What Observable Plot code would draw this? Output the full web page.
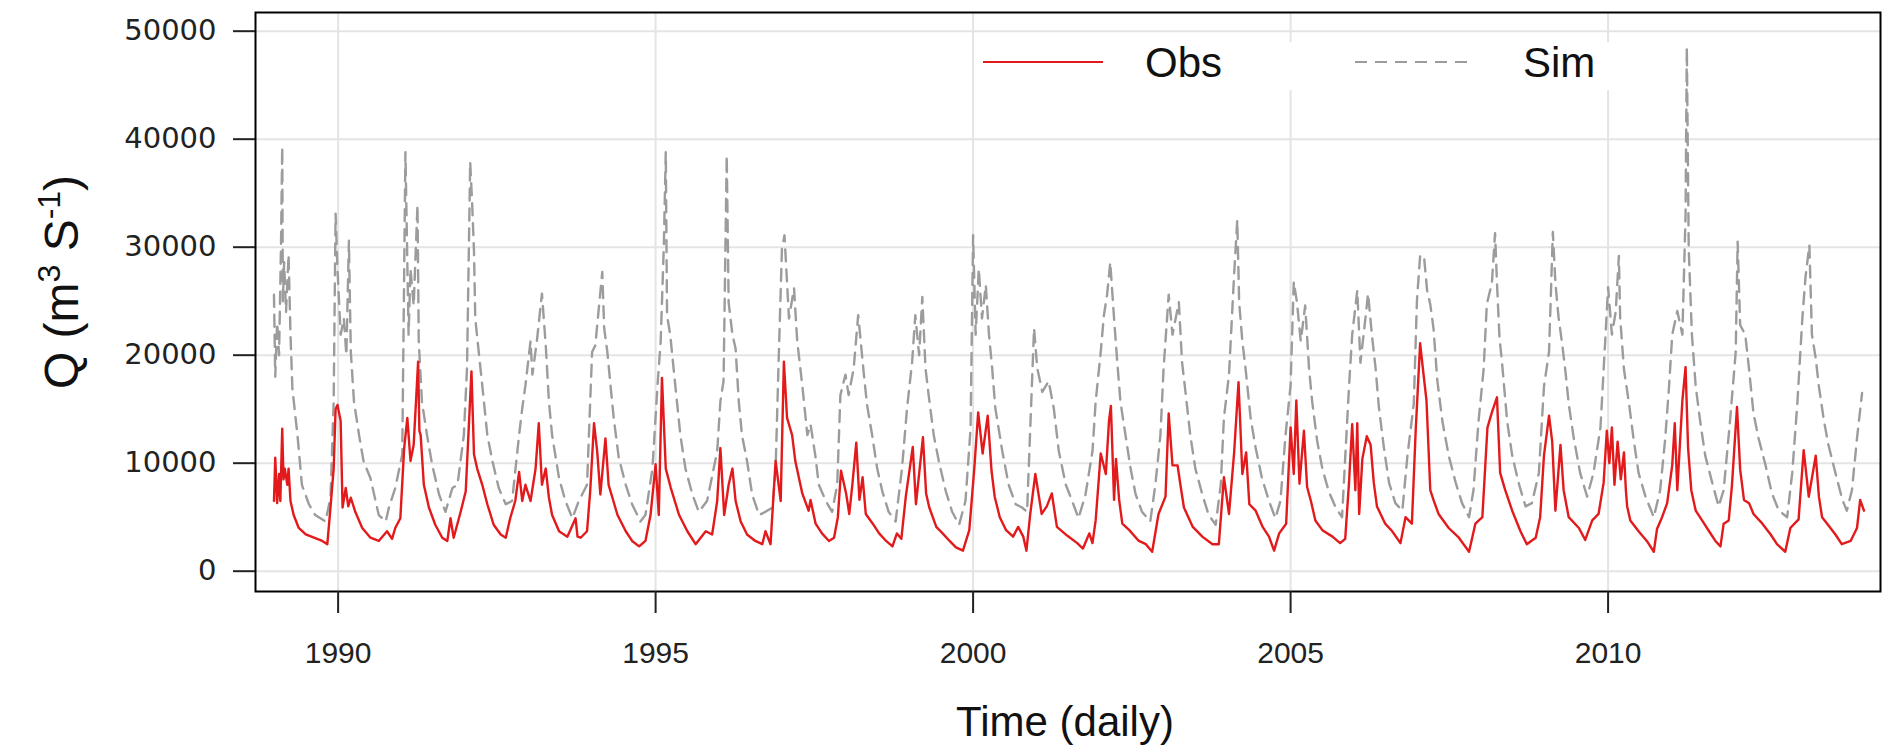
<!DOCTYPE html>
<html>
<head>
<meta charset="utf-8">
<script src="https://cdn.jsdelivr.net/npm/d3@7"></script>
<script src="https://cdn.jsdelivr.net/npm/@observablehq/plot@0.6"></script>
<style>
  html, body { margin: 0; padding: 0; background: #fff; }
  #chart { width: 1884px; height: 748px; }
</style>
</head>
<body>
<div id="chart"></div>
<script>
// ---- Data (decimal year, discharge m3/s) ----
const obsTime = [1988.99,1989.01,1989.04,1989.07,1989.09,1989.12,1989.14,1989.16,1989.2,1989.22,1989.25,1989.3,1989.38,1989.49,1989.62,1989.75,1989.83,1989.88,1989.93,1989.96,1989.99,1990.04,1990.07,1990.12,1990.16,1990.2,1990.27,1990.38,1990.51,1990.64,1990.77,1990.85,1990.9,1990.98,1991.04,1991.09,1991.14,1991.19,1991.26,1991.28,1991.3,1991.35,1991.43,1991.53,1991.64,1991.72,1991.77,1991.82,1991.93,1992.01,1992.06,1992.1,1992.14,1992.19,1992.27,1992.35,1992.45,1992.56,1992.64,1992.71,1992.79,1992.85,1992.9,1992.95,1993.03,1993.11,1993.16,1993.21,1993.27,1993.32,1993.37,1993.48,1993.61,1993.74,1993.77,1993.82,1993.92,1993.97,1994.03,1994.08,1994.13,1994.21,1994.26,1994.32,1994.4,1994.53,1994.63,1994.74,1994.84,1994.92,1995.0,1995.05,1995.1,1995.16,1995.24,1995.37,1995.5,1995.63,1995.79,1995.89,1995.97,1996.02,1996.08,1996.15,1996.21,1996.26,1996.34,1996.44,1996.57,1996.68,1996.73,1996.81,1996.89,1996.97,1997.02,1997.07,1997.15,1997.2,1997.31,1997.41,1997.44,1997.52,1997.62,1997.73,1997.81,1997.87,1997.92,1998.0,1998.05,1998.1,1998.16,1998.21,1998.26,1998.31,1998.42,1998.52,1998.63,1998.73,1998.8,1998.87,1998.94,1999.05,1999.1,1999.21,1999.26,1999.31,1999.42,1999.52,1999.63,1999.73,1999.84,1999.94,2000.02,2000.08,2000.15,2000.23,2000.29,2000.34,2000.42,2000.52,2000.63,2000.71,2000.79,2000.84,2000.9,2000.98,2001.08,2001.16,2001.24,2001.32,2001.48,2001.64,2001.73,2001.83,2001.88,2001.93,2002.01,2002.09,2002.14,2002.17,2002.22,2002.25,2002.3,2002.35,2002.46,2002.61,2002.72,2002.82,2002.92,2003.03,2003.08,2003.14,2003.22,2003.27,2003.32,2003.46,2003.61,2003.77,2003.87,2003.95,2004.03,2004.11,2004.18,2004.24,2004.3,2004.35,2004.45,2004.56,2004.66,2004.74,2004.82,2004.93,2005.0,2005.05,2005.09,2005.14,2005.21,2005.26,2005.32,2005.39,2005.5,2005.66,2005.78,2005.86,2005.92,2005.97,2006.02,2006.05,2006.08,2006.13,2006.2,2006.26,2006.31,2006.36,2006.49,2006.6,2006.73,2006.81,2006.91,2006.97,2007.04,2007.09,2007.14,2007.2,2007.25,2007.33,2007.49,2007.65,2007.81,2007.91,2008.02,2008.1,2008.17,2008.25,2008.3,2008.38,2008.49,2008.62,2008.72,2008.86,2008.93,2008.99,2009.07,2009.12,2009.17,2009.25,2009.3,2009.38,2009.54,2009.64,2009.75,2009.85,2009.93,2009.98,2010.02,2010.06,2010.1,2010.15,2010.2,2010.25,2010.28,2010.3,2010.35,2010.48,2010.61,2010.72,2010.77,2010.85,2010.93,2011.01,2011.05,2011.09,2011.17,2011.22,2011.26,2011.31,2011.38,2011.48,2011.59,2011.69,2011.77,2011.82,2011.9,2011.95,2012.03,2012.08,2012.14,2012.22,2012.29,2012.43,2012.56,2012.66,2012.79,2012.87,2013.0,2013.08,2013.16,2013.27,2013.32,2013.37,2013.45,2013.58,2013.68,2013.82,2013.92,2013.97,2014.03];
const obsQ = [6500,10500,6300,9000,6500,13200,8500,9500,8000,9500,6500,5200,4000,3400,3100,2800,2500,5900,9500,15000,15400,13900,5900,7700,6000,6800,5500,4000,3100,2800,3700,3000,4000,4900,11400,14200,10200,11700,19400,13000,12600,8000,5900,4300,3100,2800,4900,3100,5500,7400,13600,18500,10800,9500,8000,6200,4300,3400,3100,4900,6500,9200,6500,8000,6500,9500,13700,8000,9500,6800,5200,3700,3200,4900,3200,3100,3700,7400,13700,11100,7100,12300,8000,6800,5200,3700,2800,2300,2800,5200,9900,5200,17900,9500,7700,5200,3700,2500,3700,3400,6500,11400,5200,8000,9500,6500,4600,3400,2800,2500,3700,2500,10200,6500,19400,14200,12600,10200,7200,5600,6600,4400,3500,2800,3100,5000,9300,7200,5300,8100,11900,6600,8700,5300,4400,3500,2800,2300,3500,3000,6900,11500,6200,12400,7200,5900,4100,3500,2800,2200,1900,3800,9600,14700,10900,14400,9300,6900,5000,3800,3200,4100,3200,1900,5300,9000,5300,6000,7200,4100,3300,2600,2100,3500,2600,4700,10900,9000,13900,15300,6600,10400,6600,4400,3800,2800,2500,1800,5300,6900,14600,9800,9800,7800,5900,4100,3200,2500,2500,8700,5300,10900,17500,9000,11000,6200,5600,4100,3200,1900,3500,4400,13300,9000,15800,8100,13000,7800,6500,4700,3800,3200,2600,3000,8200,13600,7500,13700,5300,10400,12500,11700,8200,6000,4400,3700,2600,5000,4400,13000,21100,18400,15800,7500,6600,5300,4000,3100,1800,4400,5000,13300,14700,16100,9100,7500,5600,3700,2500,3100,5000,10700,14400,12000,5600,11700,7500,5000,4000,2900,4700,5300,8200,13000,10000,13300,8000,12000,8500,11000,7500,6000,4700,3700,2800,1800,3900,5000,6300,9800,13700,7500,15800,18900,11400,7500,5600,4700,3700,2800,2300,4400,4700,7900,15200,9400,6600,6300,5300,4400,3400,2500,1800,4000,4800,11200,6900,10700,6900,5000,4400,3400,2500,2800,4000,6600,5600];

const simTime = [1988.99,1989.01,1989.04,1989.07,1989.1,1989.12,1989.13,1989.15,1989.18,1989.22,1989.25,1989.28,1989.36,1989.43,1989.54,1989.64,1989.8,1989.88,1989.93,1989.96,1989.99,1990.04,1990.09,1990.13,1990.17,1990.2,1990.25,1990.33,1990.4,1990.51,1990.64,1990.75,1990.8,1990.9,1991.01,1991.06,1991.11,1991.14,1991.19,1991.25,1991.27,1991.32,1991.4,1991.48,1991.59,1991.69,1991.8,1991.88,1991.98,1992.03,1992.08,1992.11,1992.14,1992.16,1992.22,1992.27,1992.35,1992.43,1992.53,1992.64,1992.74,1992.85,1992.9,1992.95,1993.03,1993.06,1993.13,1993.21,1993.27,1993.32,1993.37,1993.48,1993.58,1993.69,1993.79,1993.92,1994.0,1994.05,1994.16,1994.19,1994.24,1994.29,1994.34,1994.42,1994.53,1994.63,1994.76,1994.84,1994.95,1995.03,1995.08,1995.13,1995.16,1995.18,1995.23,1995.31,1995.39,1995.47,1995.58,1995.68,1995.81,1995.97,1996.02,1996.07,1996.12,1996.15,1996.21,1996.26,1996.31,1996.36,1996.44,1996.52,1996.63,1996.73,1996.84,1996.89,1996.94,1996.99,1997.03,1997.1,1997.18,1997.23,1997.31,1997.39,1997.44,1997.52,1997.57,1997.68,1997.78,1997.86,1997.91,1997.99,1998.04,1998.12,1998.19,1998.23,1998.28,1998.33,1998.41,1998.49,1998.57,1998.67,1998.78,1998.88,1998.96,1999.04,1999.09,1999.15,1999.2,1999.25,1999.3,1999.38,1999.46,1999.57,1999.67,1999.78,1999.88,1999.96,2000.0,2000.04,2000.09,2000.14,2000.2,2000.25,2000.3,2000.35,2000.46,2000.56,2000.67,2000.77,2000.85,2000.9,2000.96,2001.01,2001.09,2001.19,2001.27,2001.35,2001.46,2001.56,2001.66,2001.77,2001.88,2001.93,2002.01,2002.06,2002.11,2002.16,2002.22,2002.27,2002.32,2002.4,2002.48,2002.56,2002.66,2002.79,2002.87,2002.95,2003.0,2003.08,2003.14,2003.24,2003.29,2003.35,2003.42,2003.5,2003.61,2003.71,2003.82,2003.9,2003.95,2004.03,2004.11,2004.16,2004.19,2004.24,2004.29,2004.37,2004.45,2004.55,2004.66,2004.76,2004.84,2004.92,2005.0,2005.05,2005.1,2005.16,2005.23,2005.29,2005.34,2005.42,2005.5,2005.6,2005.71,2005.81,2005.92,2005.97,2006.05,2006.1,2006.18,2006.22,2006.28,2006.34,2006.39,2006.47,2006.55,2006.65,2006.76,2006.84,2006.94,2006.99,2007.04,2007.1,2007.15,2007.2,2007.25,2007.31,2007.39,2007.49,2007.6,2007.7,2007.81,2007.88,2007.96,2008.04,2008.09,2008.17,2008.22,2008.25,2008.29,2008.33,2008.41,2008.49,2008.59,2008.7,2008.8,2008.91,2008.99,2009.07,2009.13,2009.17,2009.22,2009.28,2009.33,2009.38,2009.46,2009.56,2009.67,2009.77,2009.88,2009.96,2010.0,2010.06,2010.12,2010.17,2010.19,2010.25,2010.33,2010.4,2010.48,2010.59,2010.72,2010.82,2010.9,2010.96,2011.01,2011.09,2011.17,2011.22,2011.24,2011.27,2011.32,2011.38,2011.45,2011.53,2011.64,2011.74,2011.82,2011.92,2012.01,2012.04,2012.08,2012.16,2012.22,2012.29,2012.37,2012.48,2012.58,2012.69,2012.82,2012.9,2012.98,2013.06,2013.11,2013.17,2013.21,2013.27,2013.32,2013.4,2013.47,2013.58,2013.69,2013.76,2013.84,2013.92,2014.0];
const simQ = [25600,18000,23000,20000,30000,39300,25000,28600,24000,29300,21900,16900,12600,8000,6200,5200,4600,6800,15700,33100,28000,21900,23400,20000,30600,20300,15700,12600,10200,8600,5200,4600,5900,7700,10800,38800,21900,28000,24600,33900,21300,15700,12600,9900,7100,5500,7700,8000,12600,18800,37900,34200,29600,23400,20000,17200,12600,10200,7700,6200,6500,12600,15100,17200,21300,18200,21300,25700,20900,15700,12600,8600,6500,4900,6500,8000,20300,20900,27700,22500,20300,17200,14200,10500,8000,6200,4600,5200,9500,17200,21300,30200,38800,23700,21900,17200,12600,9500,7100,5500,6500,11100,15700,17600,38500,24900,21900,20600,15700,12600,10200,7100,5200,5500,5900,9500,20000,29900,31100,23400,26200,21300,17200,12600,13600,10500,8000,6500,5500,8000,16300,18200,16300,18800,23700,21300,18200,15400,12600,9500,7400,5500,4600,9500,15100,19400,23700,20000,25400,18800,16300,12600,10200,7400,5500,4300,6500,13200,31100,21900,28000,23400,26500,21900,18800,15100,11100,8000,6200,5900,5500,13200,22500,18800,16600,17600,15100,11100,8000,6500,4900,7100,11100,15700,20300,23700,25600,28600,23400,19400,15700,12600,9500,7100,5500,4600,8000,12600,18800,25600,21900,24900,19400,16300,12600,9500,7100,5200,4300,8000,14200,18200,27400,32500,24900,21300,18800,14200,11400,8600,6500,4900,6500,12600,17200,26800,24900,21300,24600,18800,15700,12000,9500,7400,5900,5000,17100,21900,26000,19300,23500,25700,21900,18700,15200,11400,8200,6300,5600,10700,15500,25100,29200,29200,26000,24700,22500,17700,13900,10700,8200,6300,5000,7500,13900,18700,24700,26700,31300,26700,21600,19300,13900,10700,8200,6000,6300,9100,17100,20300,31400,26700,23500,20900,18400,15500,12300,9100,6900,9100,13300,21900,26300,21900,24000,29200,23500,18700,15500,12300,9100,6900,5000,7500,12300,17100,21900,24100,21900,33000,48500,29800,21900,17100,13900,10700,8200,6000,7500,13900,20300,30500,22800,21900,18700,14600,12300,9800,7200,5600,5000,9100,15500,23500,27300,30200,21900,19700,17100,13900,11700,9100,6600,5600,7500,12300,16500];

const yTicks = [0, 10000, 20000, 30000, 40000, 50000];
const xTicks = [1990, 1995, 2000, 2005, 2010];
const seriesNames = ["Obs", "Sim"];
const seriesColors = ["#e31a1c", "#9c9c9c"];

const obsData = obsTime.map((t, i) => ({t, q: obsQ[i]}));
const simData = simTime.map((t, i) => ({t, q: simQ[i]}));

const chart = Plot.plot({
  width: 1884,
  height: 748,
  marginLeft: 255,
  marginRight: 4,
  marginTop: 12,
  marginBottom: 157,
  style: {background: "#fff", fontFamily: "Liberation Sans, Arial, sans-serif"},
  x: {domain: [1988.699, 2014.29]},
  y: {domain: [-1880, 51730]},
  marks: [
    Plot.gridX(xTicks, {stroke: "#e4e4e4", strokeOpacity: 1, strokeWidth: 2}),
    Plot.gridY(yTicks, {stroke: "#e4e4e4", strokeOpacity: 1, strokeWidth: 2}),
    Plot.line(simData, {x: "t", y: "q", stroke: seriesColors[1], strokeWidth: 2.4, strokeDasharray: "12,8"}),
    Plot.line(obsData, {x: "t", y: "q", stroke: seriesColors[0], strokeWidth: 2.4}),
    Plot.frame({stroke: "#000", strokeWidth: 2}),
    Plot.axisY(yTicks, {tickSize: 22, tickPadding: 17, fontSize: 29, fontFamily: "DejaVu Sans", tickFormat: d => String(d), label: null, strokeWidth: 2, color: "#222"}),
    Plot.axisX(xTicks, {tickSize: 22, tickPadding: 28, fontSize: 30, fontFamily: "Liberation Sans", tickFormat: d => String(d), label: null, strokeWidth: 2, color: "#222"})
  ]
});
document.getElementById("chart").appendChild(chart);

// ---- Titles and legend ----
const svg = d3.select(chart);
const ns = "Liberation Sans, Arial, sans-serif";

svg.append("text")
  .attr("x", 1065).attr("y", 736)
  .attr("text-anchor", "middle")
  .attr("font-family", ns).attr("font-size", 42).attr("fill", "#111")
  .text("Time (daily)");

const yt = svg.append("text")
  .attr("transform", "translate(78,282) rotate(-90)")
  .attr("text-anchor", "middle")
  .attr("font-family", ns).attr("font-size", 48).attr("fill", "#111");
yt.append("tspan").text("Q (m");
yt.append("tspan").attr("font-size", 32).attr("dy", -18).text("3");
yt.append("tspan").attr("dy", 18).text(" S");
yt.append("tspan").attr("font-size", 32).attr("dy", -18).text("-1");
yt.append("tspan").attr("dy", 18).text(")");

const lg = svg.append("g");
lg.append("rect").attr("x", 976).attr("y", 42).attr("width", 640).attr("height", 48).attr("fill", "#fff");
lg.append("line").attr("x1", 983).attr("x2", 1103).attr("y1", 62).attr("y2", 62)
  .attr("stroke", seriesColors[0]).attr("stroke-width", 2);
lg.append("line").attr("x1", 1355).attr("x2", 1475).attr("y1", 62).attr("y2", 62)
  .attr("stroke", seriesColors[1]).attr("stroke-width", 2).attr("stroke-dasharray", "12,8");
lg.append("text").attr("x", 1145).attr("y", 77).attr("text-anchor", "start").attr("font-family", ns).attr("font-size", 42)
  .attr("fill", "#111").text(seriesNames[0]);
lg.append("text").attr("x", 1523).attr("y", 77).attr("text-anchor", "start").attr("font-family", ns).attr("font-size", 42)
  .attr("fill", "#111").text(seriesNames[1]);
</script>
</body>
</html>
